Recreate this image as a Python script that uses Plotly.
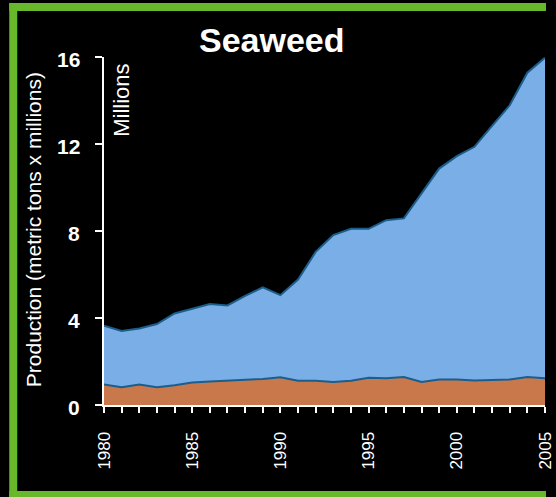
import plotly.graph_objects as go

years = list(range(1980, 2006))
# lower (orange) series, millions of metric tons
lower_series = [0.94, 0.82, 0.94, 0.82, 0.91, 1.03, 1.08, 1.12, 1.13, 1.20,
                1.28, 1.12, 1.12, 1.06, 1.12, 1.25, 1.23, 1.29, 1.06, 1.17,
                1.17, 1.13, 1.15, 1.17, 1.29, 1.23]
# top of the stacked area (total), millions of metric tons
total_series = [3.64, 3.40, 3.52, 3.72, 4.21, 4.44, 4.64, 4.58, 5.02, 5.41,
                5.05, 5.77, 7.04, 7.81, 8.10, 8.10, 8.50, 8.58, 9.72, 10.87,
                11.44, 11.87, 12.83, 13.78, 15.28, 15.97]
y_ticks = [0, 4, 8, 12, 16]
x_ticks = [1980, 1985, 1990, 1995, 2000, 2005]

XS = 566 / 556          # horizontal compensation for the page photograph
W, H = 566, 497
ML = round(102 * XS)
MR = round(W - 545 * XS)
MT, MB = 57, 92
PW, PH = W - ML - MR, H - MT - MB

def px_x(x):
    return (x * XS - ML) / PW

def px_y(y):
    return (H - MB - y) / PH

FONT = "Arial, Liberation Sans, sans-serif"
LINE = "#1B5E8C"
GREEN = "#68B82C"

fig = go.Figure()
fig.add_trace(go.Scatter(x=years, y=lower_series, mode="lines", fill="tozeroy",
                         fillcolor="#C8784B", line=dict(color=LINE, width=2),
                         showlegend=False, hoverinfo="skip"))
fig.add_trace(go.Scatter(x=years, y=total_series, mode="lines", fill="tonexty",
                         fillcolor="#7AAEE6", line=dict(color=LINE, width=2),
                         showlegend=False, hoverinfo="skip"))

fig.update_layout(
    width=W, height=H,
    margin=dict(l=ML, r=MR, t=MT, b=MB, pad=0),
    paper_bgcolor="black", plot_bgcolor="black",
    font=dict(family=FONT, color="white"),
    showlegend=False,
    xaxis=dict(range=[1980, 2005], tickvals=x_ticks, ticktext=[str(v) for v in x_ticks],
               tickangle=-90, ticks="outside", ticklen=6, tickwidth=2, tickcolor="white",
               showline=True, linecolor="white", linewidth=2, showgrid=False, zeroline=False,
               tickfont=dict(size=17, color="white", family=FONT),
               ticklabelstandoff=12,
               minor=dict(dtick=1, tick0=1980, ticks="outside", ticklen=6, tickwidth=2,
                          tickcolor="white", showgrid=False)),
    yaxis=dict(range=[0, 16], tickvals=y_ticks, ticks="outside", ticklen=7, tickwidth=2,
               tickcolor="white", showline=True, linecolor="white", linewidth=2,
               showgrid=False, zeroline=False, showticklabels=False),
)

# y tick labels, placed on the y scale at a fixed distance left of the axis
for v in y_ticks:
    fig.add_annotation(text="<b>%d</b>" % v, x=px_x(80), y=v, xref="paper", yref="y",
                       xanchor="right", yanchor="middle", yshift=-2, showarrow=False,
                       font=dict(size=21, color="white", family=FONT))

fig.add_annotation(text="<b>Seaweed</b>", x=px_x(271), y=px_y(40), xref="paper", yref="paper",
                   xanchor="center", yanchor="middle", showarrow=False,
                   font=dict(size=34, color="white", family=FONT))
fig.add_annotation(text="Production (metric tons x millions)", x=px_x(31), y=px_y(230),
                   xref="paper", yref="paper", textangle=-90, xanchor="center",
                   yanchor="middle", showarrow=False,
                   font=dict(size=21, color="white", family=FONT))
fig.add_annotation(text="Millions", x=px_x(119), y=px_y(100), xref="paper", yref="paper",
                   textangle=-90, xanchor="center", yanchor="middle", showarrow=False,
                   font=dict(size=22, color="white", family=FONT))

# green frame: left, top and bottom edges (right edge lies outside the picture)
border = dict(color=GREEN, width=8)
x_end = (W - 10 - ML) / PW
fig.add_shape(type="line", xref="paper", yref="paper",
              x0=px_x(11), x1=px_x(11), y0=px_y(3), y1=px_y(497), line=border, layer="above")
fig.add_shape(type="line", xref="paper", yref="paper",
              x0=px_x(7), x1=x_end, y0=px_y(7), y1=px_y(7), line=border, layer="above")
fig.add_shape(type="line", xref="paper", yref="paper",
              x0=px_x(7), x1=x_end, y0=px_y(495), y1=px_y(495), line=border, layer="above")

fig.write_html("out.html", config={"displayModeBar": False},
               post_script=("document.body.style.margin='0';"
                            "document.body.style.background='black';"
                            "document.body.style.overflow='hidden';"
                            "document.documentElement.style.overflow='hidden';"))
